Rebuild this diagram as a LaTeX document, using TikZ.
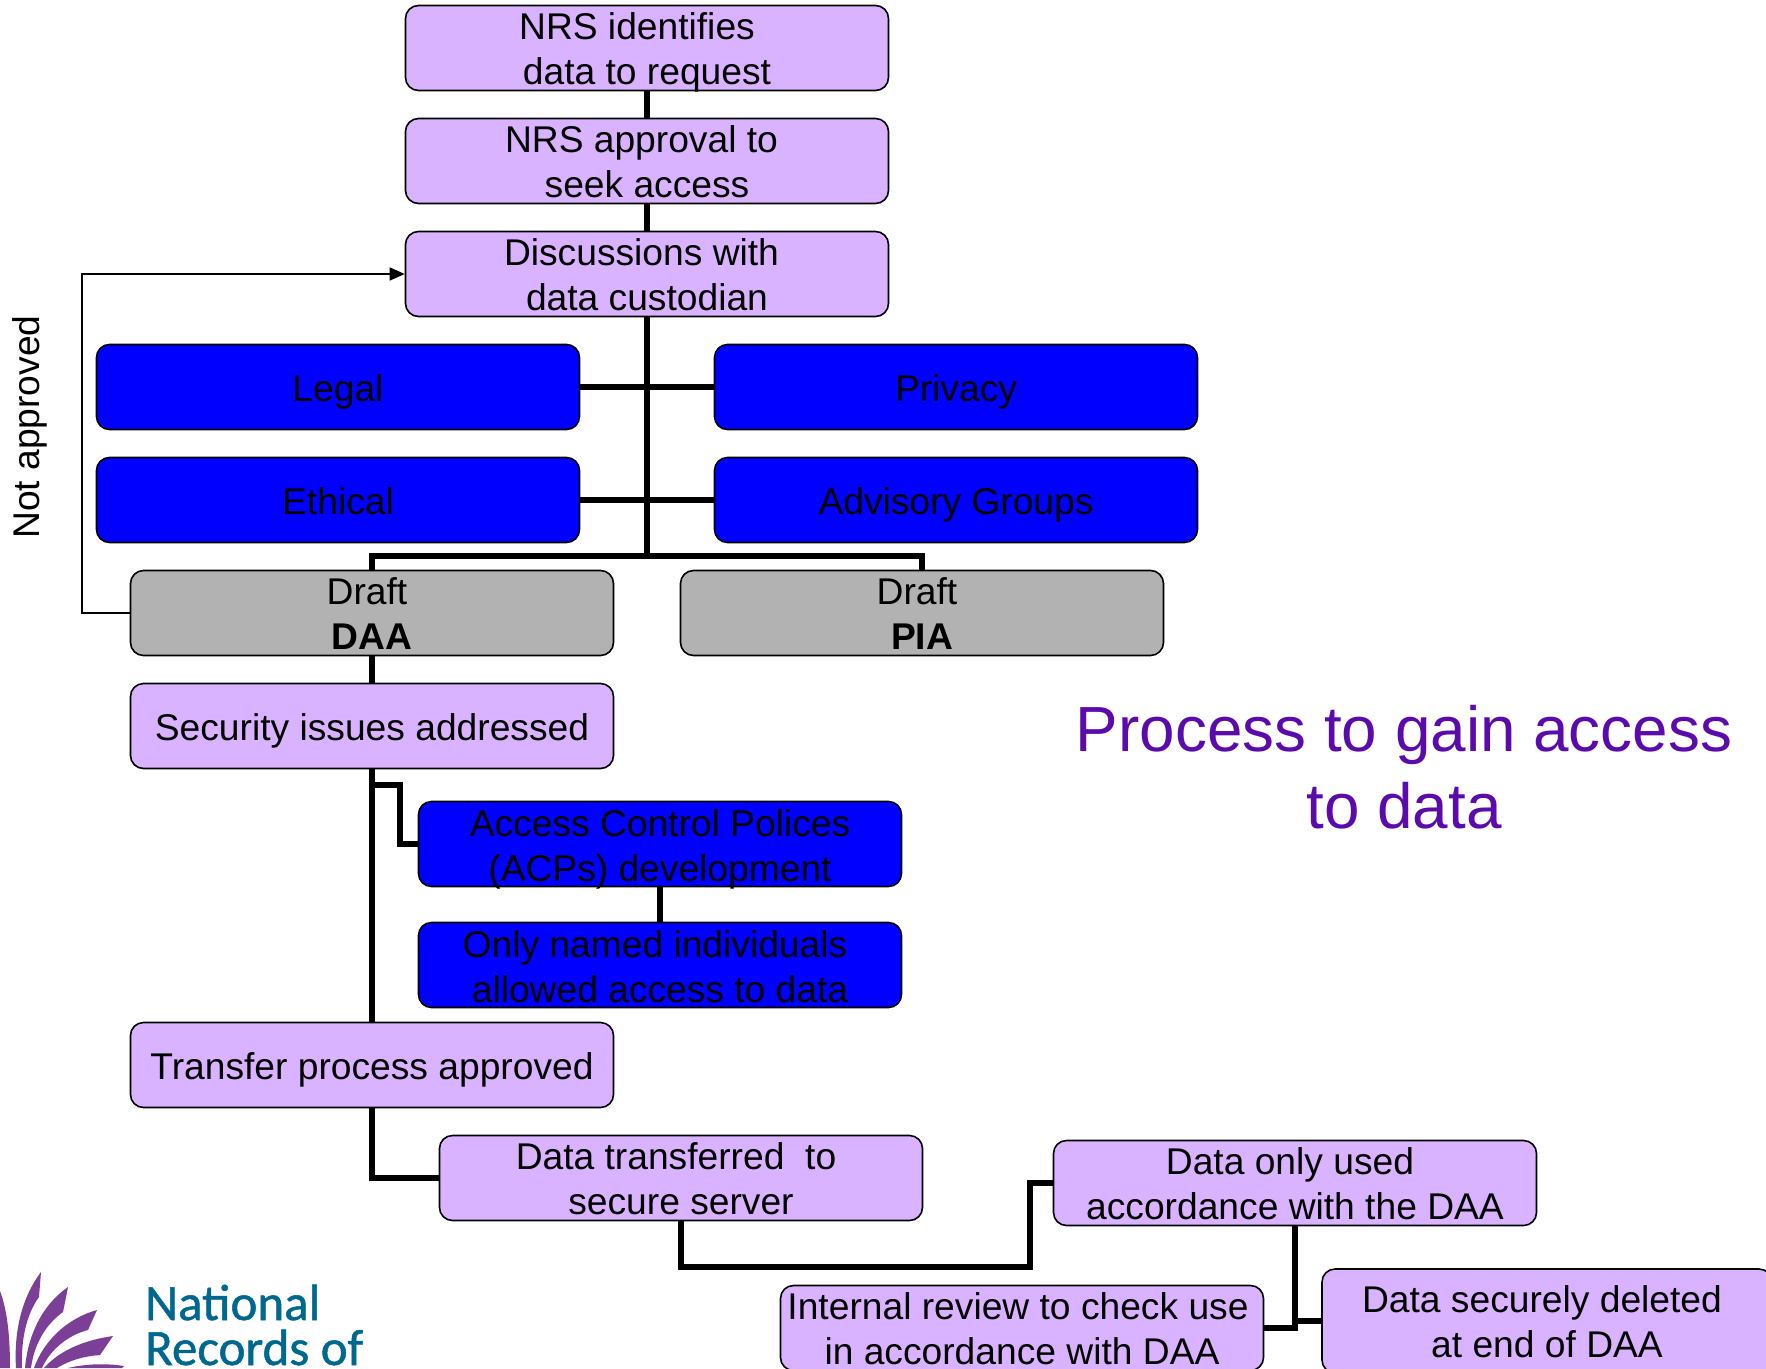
\documentclass[tikz,border=0pt]{standalone}
\usepackage{fontspec}
\setmainfont{Liberation Sans}
\newfontfamily\logofont[FakeBold=1]{Carlito}
\usetikzlibrary{arrows.meta,calc}
\definecolor{lilac}{HTML}{D9B3FF}
\definecolor{pureblue}{HTML}{0000FF}
\definecolor{midgrey}{HTML}{B2B2B2}
\definecolor{titlepurple}{HTML}{5B0BAB}
\definecolor{logoteal}{HTML}{00688F}
\definecolor{logopurple}{HTML}{7B3F98}
\newcommand\ls{\rule[-6.5pt]{0pt}{40pt}}
\newcommand\lsone{\rule[-8pt]{0pt}{44pt}}
\newcommand\dnline[2]{\ls\raisebox{-#1pt}[0pt][0pt]{#2}}
\tikzset{
  base/.style={draw=black,line width=1.6pt,rounded corners=13pt,minimum width=483pt,minimum height=85pt,
     inner sep=0pt,align=center,font=\fontsize{37.2}{45}\selectfont,text=black},
  lilacbox/.style={base,fill=lilac},
  bluebox/.style={base,fill=pureblue},
  greybox/.style={base,fill=midgrey},
  thick link/.style={draw=black,line width=6pt},
  thin link/.style={draw=black,line width=1.6pt},
}
\begin{document}
\begin{tikzpicture}[x=1pt,y=-1pt]
\useasboundingbox (0,0) rectangle (1766,1368);
\clip (0,0) rectangle (1766,1368);
% boxes
\node[lilacbox] (b1) at (647,48) {\dnline{0.5}{NRS identifies}\hspace*{20pt}\\\dnline{0.5}{data to request}};
\node[lilacbox] (b2) at (647,161) {\dnline{0}{NRS approval to}\hspace*{11pt}\\\dnline{0}{seek access}};
\node[lilacbox] (b3) at (647,274) {\dnline{0}{Discussions with}\hspace*{11pt}\\\dnline{0}{data custodian}};
\node[bluebox] (legal) at (338,387) {\lsone Legal};
\node[bluebox] (privacy) at (956,387) {\lsone Privacy};
\node[bluebox] (ethical) at (338,500) {\lsone Ethical};
\node[bluebox] (advisory) at (956,500) {\lsone Advisory Groups};
\node[greybox] (daa) at (372,613) {\ls Draft\hspace*{10pt}\\\ls\textbf{DAA}};
\node[greybox] (pia) at (922,613) {\ls Draft\hspace*{10pt}\\\ls\textbf{PIA}};
\node[lilacbox] (security) at (372,726) {\lsone Security issues addressed};
\node[bluebox] (acp) at (660,844) {\dnline{1}{Access Control Polices}\\\dnline{1}{(ACPs) development}};
\node[bluebox] (named) at (660,965) {\dnline{1}{Only named individuals}\hspace*{10pt}\\\dnline{1}{allowed access to data}};
\node[lilacbox] (transfer) at (372,1065) {\lsone Transfer process approved};
\node[lilacbox] (server) at (681,1178) {\ls Data transferred\ \ to\hspace*{10pt}\\\ls secure server};
\node[lilacbox] (used) at (1295,1183) {\ls Data only used\hspace*{10pt}\\\ls accordance with the DAA};
\node[lilacbox] (review) at (1022,1328) {\ls Internal review to check use\hspace*{8pt}\\\ls in accordance with DAA};
\node[lilacbox,minimum width=450pt,minimum height=104pt] (deleted) at (1547,1321) {\ls Data securely deleted\hspace*{10pt}\\\ls at end of DAA};
% named junctions
\coordinate (bar) at (647,556);
\coordinate (side) at (82,613);
\coordinate (top) at (82,274);
\coordinate (branch) at (372,785);
\coordinate (riser) at (400,785);
\coordinate (high) at (1030,1267);
% connectors
\draw[thick link] (b1) -- (b2);
\draw[thick link] (b2) -- (b3);
\draw[thick link] (b3) -- (bar);
\draw[thick link] (legal) -- (privacy);
\draw[thick link] (ethical) -- (advisory);
\draw[thick link] (daa.north) |- (bar) -| (pia.north);
\draw[thick link] (daa) -- (security);
\draw[thick link] (security) -- (transfer);
\draw[thick link] (branch) -- (riser) |- (acp.west);
\draw[thick link] (acp) -- (named);
\draw[thick link] (transfer.south) |- (server.west);
\draw[thick link] (server.south) |- (high) |- (used.west);
\draw[thick link] (used.south) |- (review.east);
\draw[thick link] (used.south) |- (deleted.west);
\draw[thin link,-{Triangle[length=15pt,width=13pt]}] (daa.west) -- (side) -- (top) -- (b3.west);
\node[rotate=90,font=\fontsize{37.2}{45}\selectfont] (notapp) at (30,427) {Not approved};
\node[align=center,text=titlepurple,font=\fontsize{63.8}{77}\selectfont] (title) at (1404,767) {Process to gain access\\to data};
% logo
\fill[logopurple] (0,1291) .. controls (8,1312) and (10,1340) .. (10,1368) -- (0,1368) -- cycle;
\fill[logopurple] (41,1272) -- (39,1297) .. controls (26,1315) and (21,1340) .. (22,1368) -- (16,1368) .. controls (14,1335) and (20,1300) .. (41,1272) -- cycle;
\fill[logopurple] (68,1287) -- (63,1312) .. controls (45,1325) and (34,1345) .. (31,1368) -- (25,1368) .. controls (28,1335) and (42,1305) .. (68,1287) -- cycle;
\fill[logopurple] (97,1310) -- (88,1330) .. controls (68,1335) and (50,1350) .. (42,1368) -- (34,1368) .. controls (44,1340) and (68,1318) .. (97,1310) -- cycle;
\fill[logopurple] (113,1336) -- (100,1355) .. controls (85,1356) and (70,1360) .. (57,1368) -- (44,1368) .. controls (60,1350) and (85,1340) .. (113,1336) -- cycle;
\fill[logopurple] (124,1366) -- (122,1368) -- (68,1368) .. controls (85,1364) and (105,1363) .. (124,1366) -- cycle;
\node[anchor=base west,inner sep=0pt,text=logoteal,font=\logofont\fontsize{51}{45}\selectfont] (nat) at (145,1320) {National};
\node[anchor=base west,inner sep=0pt,text=logoteal,font=\logofont\fontsize{51}{45}\selectfont] (rec) at (145,1365) {Records of};
\end{tikzpicture}
\end{document}
